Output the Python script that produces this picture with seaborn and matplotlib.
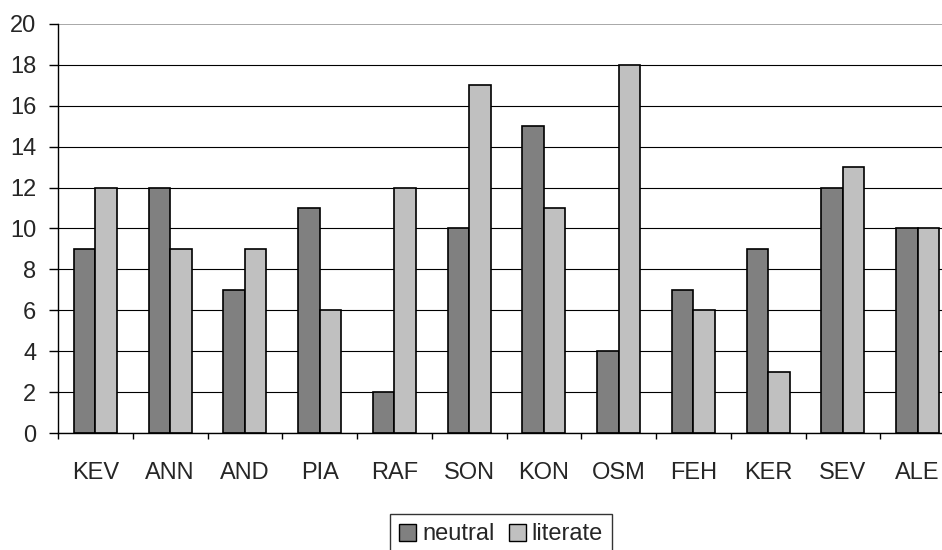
import matplotlib
matplotlib.use("Agg")
import matplotlib.pyplot as plt
import seaborn as sns
import pandas as pd
from matplotlib.patches import Patch

categories = ["KEV", "ANN", "AND", "PIA", "RAF", "SON", "KON", "OSM", "FEH", "KER", "SEV", "ALE"]
neutral = [9, 12, 7, 11, 2, 10, 15, 4, 7, 9, 12, 10]
literate = [12, 9, 9, 6, 12, 17, 11, 18, 6, 3, 13, 10]
series_names = ["neutral", "literate"]
y_ticks = [0, 2, 4, 6, 8, 10, 12, 14, 16, 18, 20]

df = pd.DataFrame({
    "cat": categories * 2,
    "val": neutral + literate,
    "series": [series_names[0]] * len(categories) + [series_names[1]] * len(categories),
})

sns.set_style("white")
plt.rcParams["font.family"] = ["Liberation Sans", "DejaVu Sans"]

FS = 17
fig = plt.figure(figsize=(9.42, 5.5), dpi=100)
ax = fig.add_axes([58 / 942, 1 - 433 / 550, (955 - 58) / 942, (433 - 24) / 550])

colors = {"neutral": "#808080", "literate": "#C0C0C0"}
sns.barplot(data=df, x="cat", y="val", hue="series", palette=colors, ax=ax,
            width=0.576, edgecolor="black", linewidth=1.2, legend=False, saturation=1)

ax.set_ylim(0, 20)
ax.set_xlim(-0.5, len(categories) - 0.5)
ax.set_yticks(y_ticks)
ax.set_yticklabels([str(t) for t in y_ticks], fontsize=FS)
ax.set_xticks(range(len(categories)))
ax.set_xticklabels(categories, fontsize=FS)
ax.tick_params(axis="x", length=0, pad=21)
ax.tick_params(axis="y", length=6.5, width=1, color="black", direction="out", pad=9, left=True)
ax.set_xticks([i - 0.5 for i in range(len(categories) + 1)], minor=True)
ax.tick_params(axis="x", which="minor", length=4.3, width=1, color="black", direction="out", bottom=True)

ax.yaxis.grid(True, color="black", linewidth=0.8)
ax.get_ygridlines()[-1].set_color("#9a9a9a")
ax.get_ygridlines()[-1].set_linewidth(1.2)
ax.set_axisbelow(True)
for s in ["top", "right"]:
    ax.spines[s].set_visible(False)
ax.spines["left"].set_color("black")
ax.spines["left"].set_linewidth(1)
ax.spines["bottom"].set_color("black")
ax.spines["bottom"].set_linewidth(1)
ax.set_xlabel("")
ax.set_ylabel("")

handles = [Patch(facecolor=colors[n], edgecolor="black", linewidth=1, label=n) for n in series_names]
leg = fig.legend(handles=handles, loc="upper left", bbox_to_anchor=(390 / 942, 1 - 514 / 550),
                 borderaxespad=0, ncol=2, frameon=True, fontsize=FS, handlelength=0.72,
                 handleheight=0.72, handletextpad=0.25, columnspacing=0.6, borderpad=0.4,
                 fancybox=False)
leg.get_frame().set_edgecolor("black")
leg.get_frame().set_linewidth(1)

fig.savefig("out.png", dpi=100)
